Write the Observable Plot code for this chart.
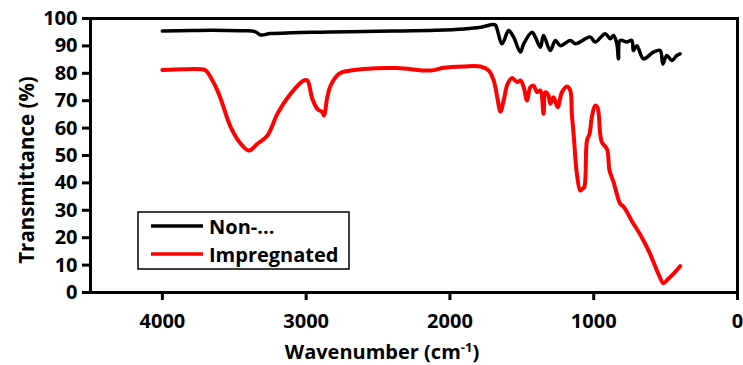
<!DOCTYPE html>
<html>
<head>
<meta charset="utf-8">
<script src="https://cdn.jsdelivr.net/npm/d3@7"></script>
<script src="https://cdn.jsdelivr.net/npm/@observablehq/plot@0.6"></script>
<style>
  html, body { margin: 0; padding: 0; background: #fff; }
  #chart svg { display: block; }
</style>
</head>
<body>
<div id="chart"></div>
<script>
// Series names
const seriesNames = ["Non-...", "Impregnated"];
const seriesColors = ["#000000", "#ff0000"];

// Non-impregnated (black) spectrum
const nonWavenumber = [4000, 3800, 3650, 3450, 3360, 3316, 3250, 3100, 2900, 2700, 2400, 2100, 1900, 1788, 1700, 1684, 1637, 1592, 1557, 1510, 1487, 1429, 1406, 1371, 1349, 1302, 1267, 1233, 1163, 1128, 1024, 990, 920, 885, 862, 840, 828, 816, 770, 735, 724, 700, 654, 585, 538, 519, 492, 457, 422, 399];
const nonTransmittance = [95.4, 95.6, 95.7, 95.5, 95.3, 94.0, 94.5, 94.8, 95.0, 95.2, 95.4, 95.7, 96.2, 96.8, 97.8, 97.6, 90.8, 95.6, 93.2, 87.7, 90.8, 95.0, 93.2, 89.5, 93.8, 88.3, 92.0, 90.1, 92.0, 90.8, 93.2, 91.4, 94.4, 92.6, 93.8, 91.0, 85.3, 92.0, 91.4, 92.0, 88.3, 90.1, 85.3, 87.7, 88.3, 83.4, 86.5, 84.7, 86.5, 87.1];

// Impregnated (red) spectrum
const impWavenumber = [4000, 3850, 3720, 3698, 3617, 3524, 3455, 3397, 3339, 3269, 3200, 3108, 3015, 2992, 2957, 2922, 2888, 2876, 2853, 2830, 2772, 2691, 2600, 2367, 2135, 2045, 1906, 1788, 1730, 1696, 1670, 1649, 1626, 1600, 1568, 1533, 1510, 1487, 1464, 1441, 1418, 1394, 1371, 1349, 1337, 1315, 1302, 1279, 1251, 1221, 1186, 1163, 1152, 1140, 1117, 1094, 1080, 1066, 1047, 1029, 1013, 990, 974, 955, 943, 908, 890, 862, 816, 793, 724, 700, 654, 608, 550, 515, 481, 446, 399];
const impTransmittance = [81.2, 81.5, 81.4, 81.0, 73.7, 60.3, 54.3, 51.8, 54.3, 57.3, 65.2, 72.5, 77.4, 77.4, 70.7, 67.0, 65.8, 64.6, 71.3, 75.5, 79.8, 81.0, 81.6, 81.9, 81.0, 82.0, 82.5, 82.5, 81.0, 77.4, 71.0, 66.0, 70.1, 76.0, 78.3, 76.8, 77.4, 74.9, 70.1, 74.9, 75.5, 73.1, 73.7, 65.2, 73.1, 72.0, 68.9, 71.3, 67.6, 73.1, 75.2, 73.7, 65.0, 58.0, 43.3, 37.2, 37.8, 38.4, 55.5, 57.9, 64.0, 68.2, 67.6, 57.9, 54.8, 52.4, 44.5, 40.3, 32.4, 31.4, 25.1, 23.2, 19.0, 14.1, 6.8, 3.4, 5.0, 6.8, 9.6];

// Axis ticks and titles
const xTicks = [4000, 3000, 2000, 1000, 0];
const yTicks = [0, 10, 20, 30, 40, 50, 60, 70, 80, 90, 100];
const xTitle = "Wavenumber (cm";
const xTitleSup = "-1";
const yTitle = "Transmittance (%)";

const nonData = nonWavenumber.map((w, i) => ({w, t: nonTransmittance[i]}));
const impData = impWavenumber.map((w, i) => ({w, t: impTransmittance[i]}));

const FONT = "'Open Sans', Lato, sans-serif";
const FS = 20;

const chart = Plot.plot({
  width: 743,
  height: 365,
  marginLeft: 90,
  marginRight: 6,
  marginTop: 18,
  marginBottom: 73,
  style: {fontFamily: FONT, fontSize: FS + "px", fontWeight: "bold", color: "#000", background: "#fff"},
  x: {domain: [4500, 0], ticks: xTicks, label: null},
  y: {domain: [0, 100], ticks: yTicks, label: null},
  marks: [
    Plot.line(impData, {x: "w", y: "t", stroke: seriesColors[1], strokeWidth: 4, curve: "catmull-rom"}),
    Plot.line(nonData, {x: "w", y: "t", stroke: seriesColors[0], strokeWidth: 3.5, curve: "catmull-rom"}),
    Plot.frame({stroke: "#000", strokeWidth: 3}),
    Plot.axisX({ticks: xTicks, tickSize: 8, tickPadding: 13, strokeWidth: 3, label: null, fontSize: FS, fontWeight: "bold", tickFormat: d => String(d)}),
    Plot.axisY({ticks: yTicks, tickSize: 8, tickPadding: 5, strokeWidth: 3, label: null, fontSize: FS, fontWeight: "bold", tickFormat: d => String(d)})
  ]
});

document.getElementById("chart").appendChild(chart);

const svg = d3.select(chart);

// Axis titles
svg.append("text")
  .attr("transform", "translate(26,170) rotate(-90)")
  .attr("text-anchor", "middle")
  .attr("dominant-baseline", "central")
  .style("font-family", FONT).style("font-size", "20.5px").style("font-weight", "bold")
  .text(yTitle);

const xt = svg.append("text")
  .attr("x", 382).attr("y", 359)
  .attr("text-anchor", "middle")
  .style("font-family", FONT).style("font-size", FS + "px").style("font-weight", "bold");
xt.append("tspan").text(xTitle);
xt.append("tspan").attr("dy", -7).style("font-size", "13px").text(xTitleSup);
xt.append("tspan").attr("dy", 7).text(")");

// Legend inside plot area
const lg = svg.append("g");
lg.append("rect").attr("x", 138).attr("y", 212).attr("width", 211).attr("height", 57)
  .attr("fill", "#fff").attr("stroke", "#000").attr("stroke-width", 1.5);
seriesNames.forEach((name, i) => {
  const yy = 226 + i * 28;
  lg.append("line").attr("x1", 151).attr("x2", 203).attr("y1", yy).attr("y2", yy)
    .attr("stroke", seriesColors[i]).attr("stroke-width", 3.5);
  lg.append("text").attr("x", 209).attr("y", yy).attr("text-anchor", "start").attr("dominant-baseline", "central")
    .style("font-family", FONT).style("font-size", FS + "px").style("font-weight", "bold")
    .text(name);
});
</script>
</body>
</html>
